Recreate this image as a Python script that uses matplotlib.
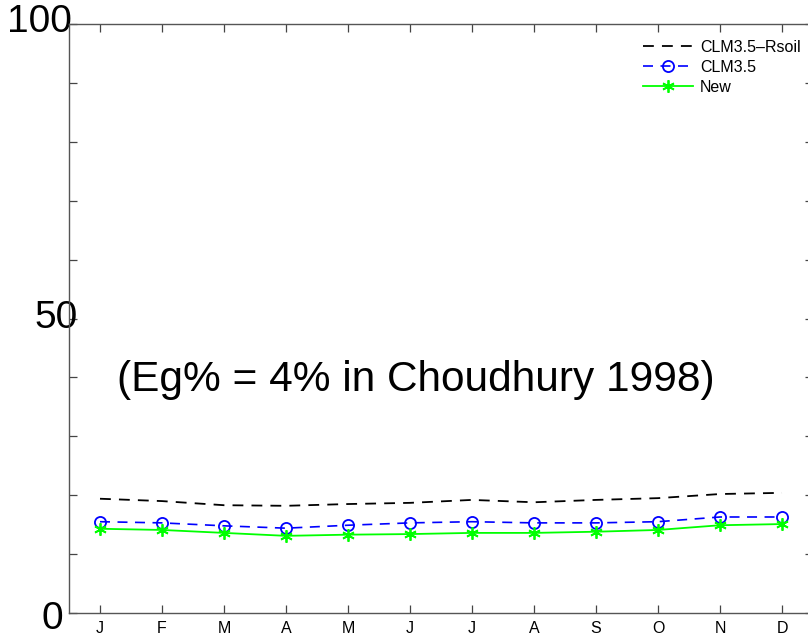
import matplotlib
matplotlib.use('Agg')
from matplotlib import pyplot as plt
from matplotlib import transforms
import numpy as np

plt.rcParams['font.family'] = ['Liberation Sans', 'DejaVu Sans']

months = ['J', 'F', 'M', 'A', 'M', 'J', 'J', 'A', 'S', 'O', 'N', 'D']

# ground evaporation fraction (%) per month
rsoil = [19.4, 19.0, 18.3, 18.2, 18.5, 18.7, 19.2, 18.8, 19.2, 19.5, 20.2, 20.4]
clm35 = [15.5, 15.3, 14.8, 14.4, 14.9, 15.3, 15.5, 15.3, 15.3, 15.5, 16.3, 16.3]
new = [14.3, 14.1, 13.6, 13.1, 13.3, 13.4, 13.6, 13.6, 13.8, 14.1, 14.9, 15.1]

ytick_vals = [0, 50, 100]
note = '(Eg% = 4% in Choudhury 1998)'

fig = plt.figure(figsize=(8.08, 6.41), dpi=100)
ax = fig.add_axes([69 / 808, 1 - 613 / 641, 744 / 808, 589 / 641])

x = np.arange(1, len(months) + 1)
ax.plot(x, rsoil, color='k', ls=(0, (6, 4.5)), lw=1.3, label='CLM3.5\u2013Rsoil')
ax.plot(x, clm35, color='#0000ff', ls=(0, (6, 4.5)), lw=1.2, marker='o',
        ms=8, mfc='none', mew=1.3, label='CLM3.5')
ax.plot(x, new, color='#00ff00', ls='-', lw=1.3, marker=(6, 2, 0),
        ms=9, mew=1.3, label='New')

ax.set_xlim(0.5, 12.5)
ax.set_ylim(0, 100)
ax.set_xticks(x)
ax.set_xticklabels(months, fontsize=11.5)
ax.set_yticks(np.arange(0, 101, 10))
ax.set_yticklabels([str(v) if v in ytick_vals else '' for v in range(0, 101, 10)],
                   fontsize=28)

for s in ax.spines.values():
    s.set_color('#555555')
    s.set_linewidth(1.0)
ax.tick_params(direction='in', length=6, width=0.9, color='#444444',
               top=True, right=True)
ax.tick_params(axis='x', pad=6)
ax.tick_params(axis='y', pad=0)

# nudge the big y labels
shifts = {'0': (-6, -2), '50': (9, 5), '100': (3, 6)}
for lab in ax.get_yticklabels():
    dx, dy = shifts.get(lab.get_text(), (0, 0))
    lab.set_transform(lab.get_transform() +
                      transforms.ScaledTranslation(dx / 100, dy / 100, fig.dpi_scale_trans))

ax.text(6.1, 39.6, note, fontsize=30.5, ha='center', va='center')

leg = ax.legend(loc='upper right', bbox_to_anchor=(0.992, 0.984), frameon=False,
                fontsize=11.5, handlelength=3.1, handletextpad=0.45,
                labelspacing=0.32, borderaxespad=0.0)

fig.savefig('out.png', dpi=100)
